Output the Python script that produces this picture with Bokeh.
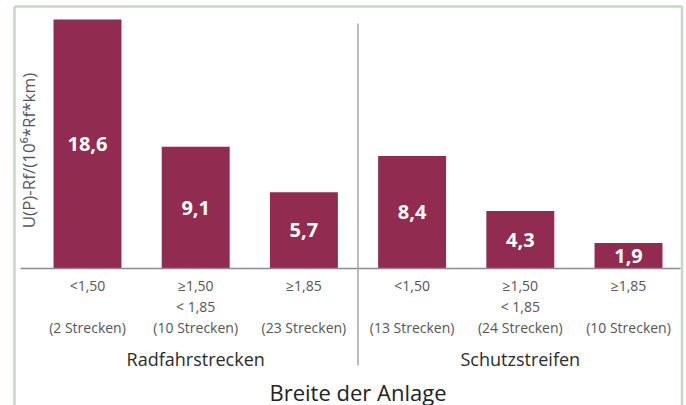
import math
from bokeh.plotting import figure
from bokeh.models import ColumnDataSource, Range1d
from bokeh.core.properties import value
from bokeh.embed import file_html
from bokeh.resources import INLINE

# ---------------- data ----------------
groups = ["Radfahrstrecken", "Schutzstreifen"]
group_members = [[0, 1, 2], [3, 4, 5]]
width_line1 = ["<1,50", "≥1,50", "≥1,85", "<1,50", "≥1,50", "≥1,85"]
width_line2 = ["", "< 1,85", "", "", "< 1,85", ""]
counts = ["(2 Strecken)", "(10 Strecken)", "(23 Strecken)",
          "(13 Strecken)", "(24 Strecken)", "(10 Strecken)"]
values = [18.6, 9.1, 5.7, 8.4, 4.3, 1.9]
y_title = "U(P)-Rf/(10⁶*Rf*km)"
x_title = "Breite der Anlage"

# ---------------- geometry ----------------
W, H = 686, 405
PX0, STEP = 87.0, 108.2          # pixel centre of first bar, bar spacing
BASE, PPU = 268.0, 249.0 / 18.6  # baseline pixel, pixels per unit

def fx(px):
    return (px - PX0) / STEP

def fy(py):
    return (BASE - py) / PPU

FONT = "Open Sans"
BAR = "#912b50"

xs = list(range(len(values)))
labels = [f"{v:.1f}".replace(".", ",") for v in values]

p = figure(width=W, height=H, output_backend="svg", toolbar_location=None,
           x_range=Range1d(fx(0), fx(W)), y_range=Range1d(fy(H), fy(0)),
           x_axis_location=None, y_axis_location=None, min_border=0)
p.outline_line_color = None
p.grid.visible = False
p.xgrid.grid_line_color = None
p.ygrid.grid_line_color = None
p.background_fill_color = "white"
p.border_fill_color = "white"

# frame around the chart (decoration)
border = "#c6d6c9"
p.segment(x0=[fx(14), fx(14), fx(681.5)], y0=[fy(6), fy(H), fy(6)],
          x1=[fx(681.5), fx(14), fx(681.5)], y1=[fy(6), fy(6), fy(H)],
          line_color=border, line_width=2.5)

src = ColumnDataSource(dict(x=xs, top=values, lab=labels,
                            mid=[v / 2 for v in values],
                            l1=width_line1, l2=width_line2, l3=counts))

p.vbar(x="x", top="top", width=0.628, source=src, fill_color=BAR,
       line_color=None)

# baseline
p.segment(x0=[fx(20)], y0=[0], x1=[fx(680)], y1=[0],
          line_color="#8c8c8c", line_width=1.5)

# separator between groups
sep_x = (group_members[0][-1] + group_members[1][0]) / 2
p.segment(x0=[sep_x], y0=[fy(23)], x1=[sep_x], y1=[fy(365)],
          line_color="#a5a5a5", line_width=1.5)

# value labels
p.text(x="x", y="mid", text="lab", source=src, text_color="white",
       text_font=value(FONT), text_font_style="bold", text_font_size="20px",
       text_align="center", text_baseline="middle")

# category labels
for col, py in (("l1", 285), ("l2", 306), ("l3", 327)):
    p.text(x="x", y=fy(py), text=col, source=src, text_color="#555555",
           text_font=value(FONT), text_font_size="14px",
           text_align="center", text_baseline="middle")

# group labels
gx = [sum(m) / len(m) for m in group_members]
p.text(x=gx, y=[fy(358)] * len(groups), text=groups, text_color="#2b2b2b",
       text_font=value(FONT), text_font_size="18px",
       text_align="center", text_baseline="middle")

# x title
p.text(x=[(xs[0] + xs[-1]) / 2], y=[fy(391)], text=[x_title],
       text_color="#222222", text_font=value(FONT), text_font_size="22px",
       text_align="center", text_baseline="middle")

# y title
p.text(x=[fx(28)], y=[fy(150)], text=[y_title], angle=math.pi / 2,
       text_color="#555555", text_font=value(FONT), text_font_size="17px",
       text_align="center", text_baseline="middle")

open("out.html", "w").write(file_html(p, INLINE))
